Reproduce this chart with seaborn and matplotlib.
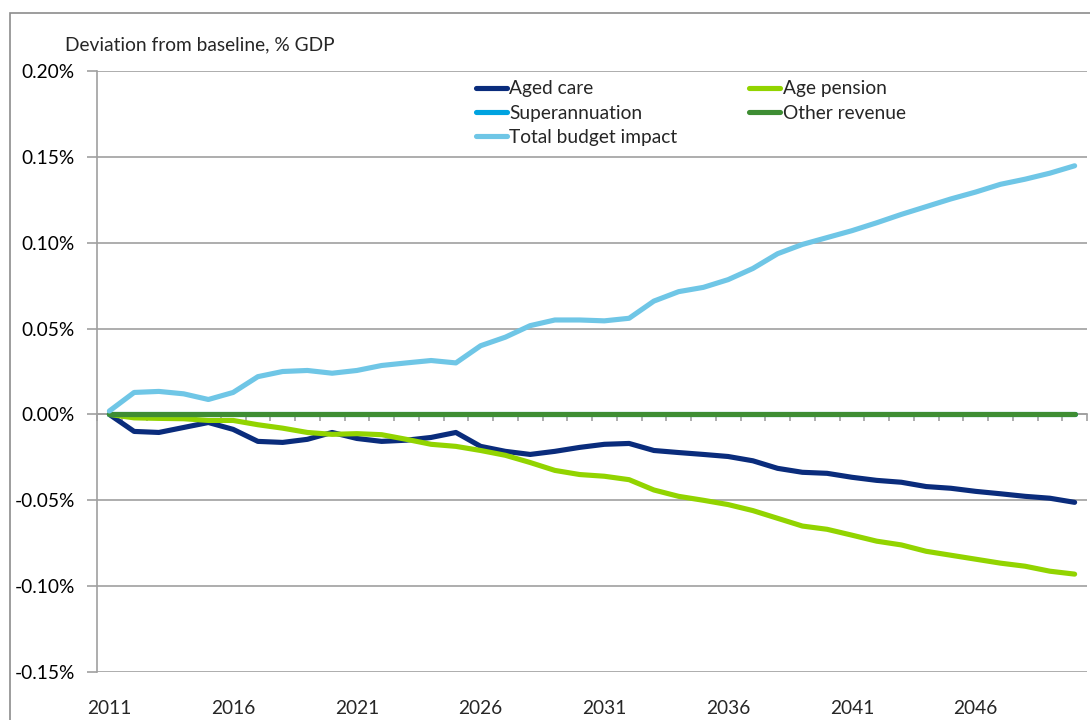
#!/usr/bin/env python3
"""Budget impact scenario: deviation from baseline, % GDP, 2011-2050."""

import numpy as np
import pandas as pd
import seaborn as sns
import matplotlib.pyplot as plt
from matplotlib.patches import Rectangle
from matplotlib.ticker import FuncFormatter


YEARS = list(range(2011, 2051))

AGED_CARE = [
    0.0, -0.0099, -0.0105, -0.0076, -0.0047, -0.0087, -0.0157, -0.0163, -0.0145, -0.0105,
    -0.0140, -0.0157, -0.0150, -0.0134, -0.0105, -0.0186, -0.0215, -0.0233, -0.0215, -0.0192,
    -0.0174, -0.0169, -0.0210, -0.0222, -0.0233, -0.0245, -0.0270, -0.0314, -0.0337, -0.0343,
    -0.0366, -0.0384, -0.0395, -0.0420, -0.0430, -0.0448, -0.0462, -0.0477, -0.0488, -0.0512,
]
AGE_PENSION = [
    0.0, -0.0020, -0.0023, -0.0025, -0.0035, -0.0035, -0.0060, -0.0080, -0.0105, -0.0116,
    -0.0112, -0.0118, -0.0145, -0.0174, -0.0186, -0.0210, -0.0238, -0.0280, -0.0326, -0.0350,
    -0.0360, -0.0380, -0.0440, -0.0477, -0.0500, -0.0525, -0.0560, -0.0605, -0.0650, -0.0669,
    -0.0703, -0.0738, -0.0760, -0.0797, -0.0820, -0.0843, -0.0866, -0.0884, -0.0913, -0.0930,
]
SUPERANNUATION = [0.0] * 40
OTHER_REVENUE = [0.0] * 40
TOTAL_BUDGET = [
    0.0020, 0.0128, 0.0134, 0.0120, 0.0087, 0.0128, 0.0220, 0.0250, 0.0256, 0.0240,
    0.0256, 0.0285, 0.0300, 0.0314, 0.0300, 0.0400, 0.0450, 0.0517, 0.0550, 0.0550,
    0.0545, 0.0560, 0.0660, 0.0715, 0.0740, 0.0785, 0.0850, 0.0936, 0.0990, 0.1030,
    0.1070, 0.1116, 0.1165, 0.1210, 0.1255, 0.1295, 0.1340, 0.1370, 0.1405, 0.1448,
]

SERIES = ["Aged care", "Age pension", "Superannuation", "Other revenue", "Total budget impact"]
COLORS = ["#0a2c7c", "#92d400", "#00a3e0", "#3e8d33", "#6fc6e6"]
Y_TICKS = [-0.15, -0.10, -0.05, 0.0, 0.05, 0.10, 0.15, 0.20]
LABEL_YEARS = YEARS[::5]

GRAY = "#a0a0a0"
FONT = ["Lato", "DejaVu Sans"]
FS = 13.8


def main():
    df = pd.DataFrame({
        "Year": YEARS * 5,
        "Value": AGED_CARE + AGE_PENSION + SUPERANNUATION + OTHER_REVENUE + TOTAL_BUDGET,
        "Series": np.repeat(SERIES, len(YEARS)),
    })

    sns.set_theme(style="white")
    plt.rcParams["font.family"] = FONT

    fig = plt.figure(figsize=(10.9, 7.2), dpi=100)
    ax = fig.add_axes([97 / 1090, 1 - 672 / 720, 990 / 1090, 601 / 720])

    sns.lineplot(data=df, x="Year", y="Value", hue="Series", hue_order=SERIES,
                 palette=COLORS, linewidth=3.7, legend=False, ax=ax)
    for line in ax.get_lines():
        line.set_solid_capstyle("round")
        line.set_solid_joinstyle("round")

    ax.set_xlim(2010.5, 2050.5)
    ax.set_ylim(-0.15, 0.20)
    ax.set_xlabel("")
    ax.set_ylabel("")

    # y axis
    ax.set_yticks(Y_TICKS)
    ax.yaxis.set_major_formatter(FuncFormatter(lambda v, _: f"{v:.2f}%"))
    ax.tick_params(axis="y", direction="out", length=7, width=1.2, color=GRAY,
                   labelsize=FS, pad=9, labelcolor="black", left=True)
    ax.yaxis.grid(True, color=GRAY, linewidth=1.2)
    ax.set_axisbelow(True)

    # x axis sits on zero, ticks between categories
    for side in ["top", "right"]:
        ax.spines[side].set_visible(False)
    ax.spines["left"].set_color(GRAY)
    ax.spines["left"].set_linewidth(1.2)
    ax.spines["bottom"].set_position(("data", 0))
    ax.spines["bottom"].set_color(GRAY)
    ax.spines["bottom"].set_linewidth(1.2)
    ax.spines["bottom"].set_zorder(1)
    ax.set_xticks(np.arange(2010.5, 2051, 1))
    ax.tick_params(axis="x", direction="out", length=5, width=1.2, color=GRAY,
                   bottom=True, labelbottom=False)

    # year labels at the bottom of the plot
    sec = ax.secondary_xaxis(0.0)
    sec.set_xticks(LABEL_YEARS)
    sec.set_xticklabels([str(y) for y in LABEL_YEARS])
    sec.tick_params(length=0, pad=20, labelsize=FS)
    sec.spines["bottom"].set_visible(False)

    # legend in Excel order (fills rows)
    lines = ax.get_lines()
    order = [0, 2, 4, 1, 3]
    ax.legend([lines[i] for i in order], [SERIES[i] for i in order],
              ncol=2, frameon=False, fontsize=FS,
              loc="upper left", bbox_to_anchor=(0.375, 0.997),
              handlelength=1.6, handletextpad=0.15, columnspacing=3.75,
              labelspacing=0.38, borderaxespad=0)

    fig.text(65 / 1090, 1 - 45 / 720, "Deviation from baseline, % GDP",
             fontsize=FS, ha="left", va="center")

    # chart area border (cut off at the right and bottom)
    fig.patches.append(Rectangle((10 / 1090, -0.05), 1.1, 1 - 13 / 720 + 0.05,
                                 transform=fig.transFigure, fill=False,
                                 edgecolor="#8c8c8c", linewidth=1.2))

    fig.savefig("out.png", dpi=100)


if __name__ == "__main__":
    main()
